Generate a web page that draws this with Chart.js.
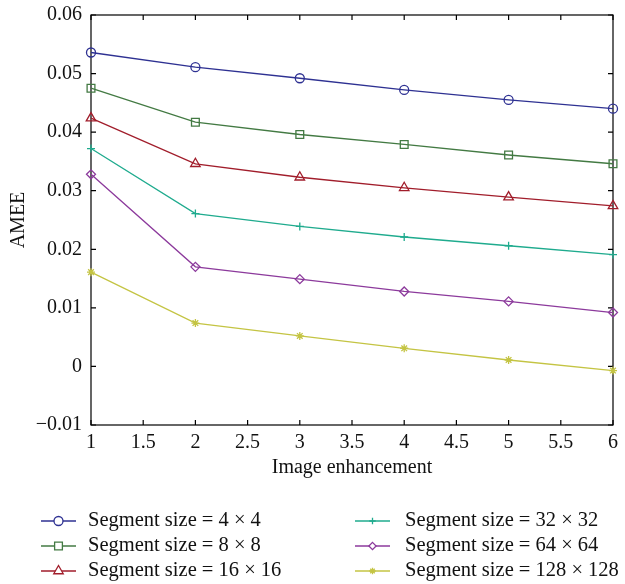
<!DOCTYPE html>
<html>
<head>
    <title>AMEE vs image enhancement</title>
    <script src="https://cdn.jsdelivr.net/npm/chart.js"></script>
    <style>
        body { margin: 0; background: #fff; }
    </style>
</head>
<body>
    <canvas id="myChart" width="625" height="584"></canvas>

    <script>
        // Data
        var enhancement = [1, 2, 3, 4, 5, 6];
        var seg4 = [0.0536, 0.0511, 0.0492, 0.0472, 0.0455, 0.0440];
        var seg8 = [0.0475, 0.0417, 0.0396, 0.0379, 0.0361, 0.0346];
        var seg16 = [0.0424, 0.0346, 0.0323, 0.0305, 0.0289, 0.0274];
        var seg32 = [0.0372, 0.0261, 0.0239, 0.0221, 0.0206, 0.0191];
        var seg64 = [0.0328, 0.0170, 0.0149, 0.0128, 0.0111, 0.0092];
        var seg128 = [0.0161, 0.0074, 0.0052, 0.0031, 0.0011, -0.0007];
        var seriesLabels = ['Segment size = 4 \u00d7 4', 'Segment size = 8 \u00d7 8', 'Segment size = 16 \u00d7 16',
            'Segment size = 32 \u00d7 32', 'Segment size = 64 \u00d7 64', 'Segment size = 128 \u00d7 128'];

        var FONT = '"Liberation Serif", "DejaVu Serif", serif';

        var styles = [
            { color: '#2e3192', shape: 'circle', r: 4.5 },
            { color: '#437a43', shape: 'rect', r: 5.5 },
            { color: '#a11d2b', shape: 'triangle', r: 5.5 },
            { color: '#1fab8e', shape: 'cross', r: 4 },
            { color: '#8c3a9c', shape: 'rectRot', r: 4.5 },
            { color: '#c4c443', shape: 'star', r: 4 }
        ];

        function pairs(ys) {
            return ys.map(function (y, i) { return { x: enhancement[i], y: y }; });
        }

        var allSeries = [seg4, seg8, seg16, seg32, seg64, seg128];
        var datasets = allSeries.map(function (ys, i) {
            var s = styles[i];
            return {
                label: seriesLabels[i],
                data: pairs(ys),
                borderColor: s.color,
                backgroundColor: 'rgba(255,255,255,0)',
                borderWidth: 1.3,
                pointStyle: s.shape,
                pointRadius: s.r,
                pointBorderWidth: 1.3,
                pointBackgroundColor: 'rgba(255,255,255,0)',
                pointBorderColor: s.color,
                tension: 0,
                clip: false
            };
        });

        function drawMarker(ctx, shape, x, y, r) {
            ctx.beginPath();
            if (shape === 'circle') {
                ctx.arc(x, y, r, 0, Math.PI * 2);
            } else if (shape === 'rect') {
                var h = r * Math.SQRT1_2;
                ctx.rect(x - h, y - h, 2 * h, 2 * h);
            } else if (shape === 'triangle') {
                ctx.moveTo(x, y - r);
                ctx.lineTo(x + r * 0.866, y + r * 0.5);
                ctx.lineTo(x - r * 0.866, y + r * 0.5);
                ctx.closePath();
            } else if (shape === 'rectRot') {
                ctx.moveTo(x, y - r);
                ctx.lineTo(x + r, y);
                ctx.lineTo(x, y + r);
                ctx.lineTo(x - r, y);
                ctx.closePath();
            } else if (shape === 'cross' || shape === 'star') {
                ctx.moveTo(x, y - r); ctx.lineTo(x, y + r);
                ctx.moveTo(x - r, y); ctx.lineTo(x + r, y);
                if (shape === 'star') {
                    var d = r * Math.SQRT1_2;
                    ctx.moveTo(x - d, y - d); ctx.lineTo(x + d, y + d);
                    ctx.moveTo(x - d, y + d); ctx.lineTo(x + d, y - d);
                }
            }
            ctx.fill();
            ctx.stroke();
        }

        // Box frame with inward ticks on all four sides
        var framePlugin = {
            id: 'frame',
            beforeDatasetsDraw: function (chart) {
                var ctx = chart.ctx, a = chart.chartArea;
                var xs = chart.scales.x, ys = chart.scales.y;
                var len = 5;
                ctx.save();
                ctx.strokeStyle = '#000';
                ctx.lineWidth = 1.2;
                ctx.strokeRect(a.left, a.top, a.right - a.left, a.bottom - a.top);
                ctx.beginPath();
                xs.ticks.forEach(function (t) {
                    var px = xs.getPixelForValue(t.value);
                    ctx.moveTo(px, a.bottom); ctx.lineTo(px, a.bottom - len);
                    ctx.moveTo(px, a.top); ctx.lineTo(px, a.top + len);
                });
                ys.ticks.forEach(function (t) {
                    var py = ys.getPixelForValue(t.value);
                    ctx.moveTo(a.left, py); ctx.lineTo(a.left + len, py);
                    ctx.moveTo(a.right, py); ctx.lineTo(a.right - len, py);
                });
                ctx.stroke();
                ctx.restore();
            }
        };

        // Two-column legend below the plot
        var legendPlugin = {
            id: 'twoColLegend',
            afterDraw: function (chart) {
                var ctx = chart.ctx;
                var cols = [{ line: 41, text: 88, k: 1 }, { line: 355, text: 405, k: 0.8 }];
                var rows = [521, 546, 571];
                ctx.save();
                ctx.font = '20.5px ' + FONT;
                ctx.textBaseline = 'middle';
                chart.data.datasets.forEach(function (ds, i) {
                    var c = cols[Math.floor(i / 3)], y = rows[i % 3];
                    var s = styles[i];
                    ctx.strokeStyle = s.color;
                    ctx.lineWidth = 1.3;
                    ctx.beginPath();
                    ctx.moveTo(c.line, y); ctx.lineTo(c.line + 35, y);
                    ctx.stroke();
                    ctx.fillStyle = s.shape === 'star' ? s.color : '#fff';
                    drawMarker(ctx, s.shape, c.line + 17.5, y, s.r * c.k);
                    ctx.fillStyle = '#111';
                    ctx.fillText(ds.label, c.text, y);
                });
                ctx.restore();
            }
        };

        function fmtY(v) {
            if (Math.abs(v) < 1e-9) return '0';
            return (v < 0 ? '\u2212' : '') + Math.abs(v).toFixed(2);
        }

        var ctx = document.getElementById('myChart').getContext('2d');
        var myChart = new Chart(ctx, {
            type: 'line',
            data: { datasets: datasets },
            options: {
                responsive: false,
                animation: false,
                layout: { padding: { top: 15, right: 12, left: 0, bottom: 94 } },
                plugins: { legend: { display: false }, tooltip: { enabled: false } },
                scales: {
                    x: {
                        type: 'linear',
                        min: 1,
                        max: 6,
                        grid: { display: false, drawTicks: false },
                        border: { display: false },
                        ticks: {
                            stepSize: 0.5,
                            padding: 6,
                            color: '#111',
                            font: { family: FONT, size: 20 },
                            maxRotation: 0,
                            callback: function (v) { return String(v); }
                        },
                        title: {
                            display: true,
                            text: 'Image enhancement',
                            color: '#111',
                            font: { family: FONT, size: 20 },
                            padding: { top: 0, bottom: 10 }
                        },
                        afterFit: function (s) { s.height = 65; }
                    },
                    y: {
                        min: -0.01,
                        max: 0.06,
                        grid: { display: false, drawTicks: false },
                        border: { display: false },
                        ticks: {
                            stepSize: 0.01,
                            padding: 9,
                            color: '#111',
                            font: { family: FONT, size: 20 },
                            callback: fmtY
                        },
                        title: {
                            display: true,
                            text: 'AMEE',
                            color: '#111',
                            font: { family: FONT, size: 20 },
                            padding: { top: 7, bottom: 0 }
                        },
                        afterFit: function (s) {
                            s.width = 91;
                            s.paddingTop = 0;
                            s.paddingBottom = 0;
                        }
                    }
                }
            },
            plugins: [framePlugin, legendPlugin]
        });
    </script>
</body>
</html>
